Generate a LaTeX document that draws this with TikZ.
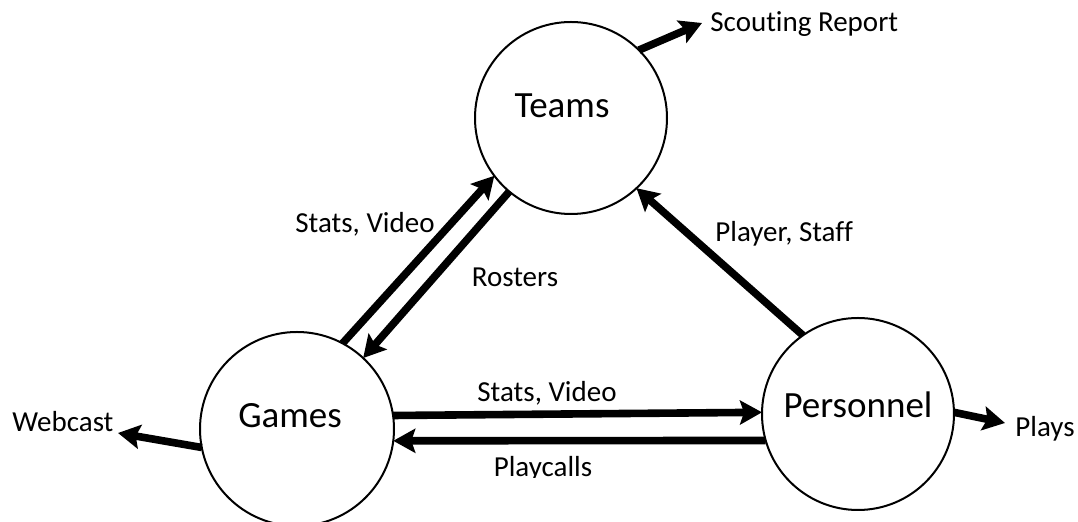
\documentclass[tikz,border=0pt]{standalone}
\usepackage{fontspec}
\setmainfont{Carlito}[Ligatures=NoCommon]
\usetikzlibrary{arrows.meta}
\begin{document}
\begin{tikzpicture}[x=0.5pt,y=-0.5pt,
  entity/.style={circle, draw, line width=1pt, inner sep=0pt, outer sep=0pt, minimum size=96pt},
  etext/.style={font=\fontsize{18.5}{21}\selectfont, anchor=base, inner sep=0pt},
  lbl/.style={font=\fontsize{14.5}{17}\selectfont, inner sep=0pt},
  flow/.style={line width=3.8pt, -{Stealth[length=11pt,width=12pt,inset=2pt]}}]
\useasboundingbox (0,0) rectangle (1078,522);
\fill[white] (0,0) rectangle (1078,522);
% entities
\node[entity] (teams) at (571,118) {};
\node[entity, minimum size=97pt] (games) at (297,429) {};
\node[entity] (pers) at (858,414) {};
\node[etext] (teamsT) at (562,118) {Teams};
\node[etext] (gamesT) at (290,428) {Games};
\node[etext] (persT) at (858,418) {Personnel};
% labels
\node[lbl, anchor=base west] (scout) at (710,32) {Scouting Report};
\node[lbl, anchor=base west] (webcast) at (12,432) {Webcast};
\node[lbl, anchor=base west] (plays) at (1015,437) {Plays};
\node[lbl, anchor=base east] (sv1) at (435,233) {Stats, Video};
\node[lbl, anchor=base] (rost) at (515,287) {Rosters};
\node[lbl, anchor=base west] (ps) at (715,242) {Player, Staff};
\node[lbl, anchor=base] (sv2) at (547,402) {Stats, Video};
\begin{scope}
  \clip (400,440) rectangle (700,478);
  \node[lbl, anchor=base] (pc) at (543,477) {Playcalls};
\end{scope}
% free ends
\coordinate (scoutTip) at (702,23);
\coordinate (webTip) at (118,433);
\coordinate (playsTip) at (1005,423);
% flows
\draw[flow] (teams.45) -- (scoutTip);
\draw[flow] (games.191) -- (webTip);
\draw[flow] (pers.1) -- (playsTip);
\draw[flow] (games.62) -- (teams.217);
\draw[flow] (teams.230) -- (games.47);
\draw[flow] (pers.125) -- (teams.313);
\draw[flow] (games.8) -- (pers.179);
\draw[flow] (pers.196) -- (games.353);
\end{tikzpicture}
\end{document}
